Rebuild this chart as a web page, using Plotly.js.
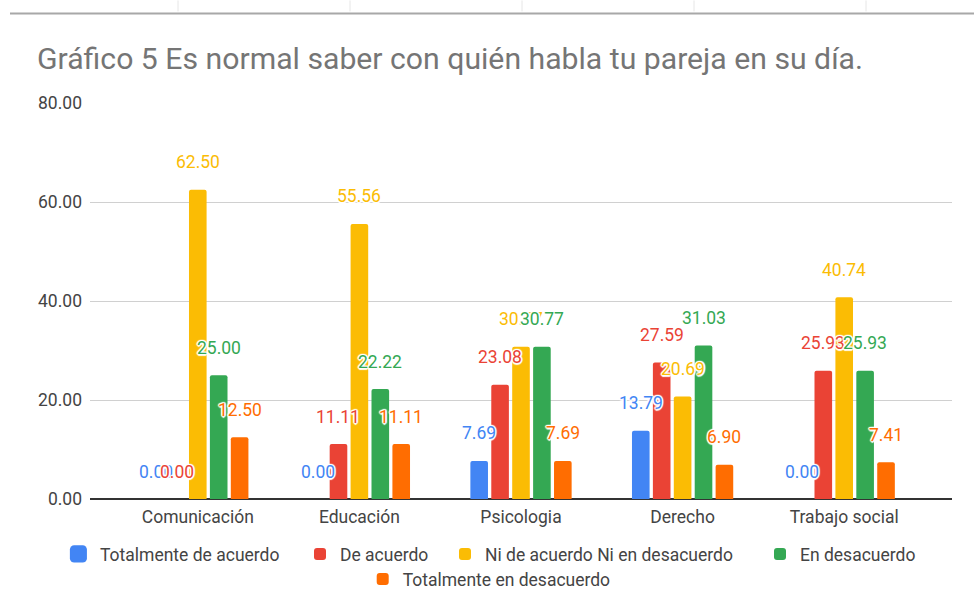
<!DOCTYPE html>
<html>
<head>
<meta charset="utf-8">
<script src="https://cdn.plot.ly/plotly-3.0.1.min.js"></script>
<style>
  html, body { margin: 0; padding: 0; background: #fff; }
  #chart { width: 974px; height: 610px; }
  .legend .legendpoints path { transform-box: fill-box; transform-origin: center; scale: 1.42; translate: -10px 0; }
</style>
</head>
<body>
<div id="chart"></div>
<script>
const categories = ['Comunicación', 'Educación', 'Psicologia', 'Derecho', 'Trabajo social'];
const seriesNames = ['Totalmente de acuerdo', 'De acuerdo', 'Ni de acuerdo Ni en desacuerdo', 'En desacuerdo', 'Totalmente en desacuerdo'];
const totalmenteDeAcuerdo = [0.00, 0.00, 7.69, 13.79, 0.00];
const deAcuerdo = [0.00, 11.11, 23.08, 27.59, 25.93];
const niNi = [62.50, 55.56, 30.77, 20.69, 40.74];
const enDesacuerdo = [25.00, 22.22, 30.77, 31.03, 25.93];
const totalmenteEnDesacuerdo = [12.50, 11.11, 7.69, 6.90, 7.41];
const yTicks = [0, 20, 40, 60, 80];

const seriesValues = [totalmenteDeAcuerdo, deAcuerdo, niNi, enDesacuerdo, totalmenteEnDesacuerdo];
const colors = ['#4285F4', '#EA4335', '#FBBC04', '#34A853', '#FF6D01'];

const FONT = 'Roboto, "Noto Sans", Arial, sans-serif';
const BARGAP = 0.353;
const nSeries = seriesValues.length;
const slot = (1 - BARGAP) / nSeries;

const legendIds = ['legend', 'legend2', 'legend3', 'legend4', 'legend5'];
// legend entry placement (text start x, row center y) in pixels
const legendTextX = [100, 340, 485, 800, 402.7];
const legendRowY = [554, 554, 554, 554, 579];

const traces = seriesValues.map((vals, k) => ({
  type: 'bar',
  name: seriesNames[k],
  x: categories,
  y: vals,
  marker: { color: colors[k], cornerradius: 2 },
  legend: legendIds[k],
  hoverinfo: 'x+y+name'
}));

const halo = '1px 1px 1px #fff, -1px -1px 1px #fff, 1px -1px 1px #fff, -1px 1px 1px #fff, 0 1.5px 1px #fff, 0 -1.5px 1px #fff, 1.5px 0 1px #fff, -1.5px 0 1px #fff';
const annotations = [];
seriesValues.forEach((vals, k) => {
  vals.forEach((v, i) => {
    annotations.push({
      x: i + (k - (nSeries - 1) / 2) * slot,
      y: v,
      xref: 'x', yref: 'y',
      text: v.toFixed(2),
      showarrow: false,
      yshift: 27.5,
      xanchor: 'center', yanchor: 'middle',
      font: { family: FONT, size: 17.5, color: colors[k], shadow: halo }
    });
  });
});

const topY = 1 + (102.7 - 13) / 396.6;
const shapes = [
  { type: 'line', xref: 'paper', yref: 'paper', x0: (10 - 90) / 862, x1: 1.05, y0: topY, y1: topY, line: { color: '#a8a8a8', width: 2 } }
];
[178, 350, 522, 694, 866].forEach(px => {
  const xp = (px - 90) / 862;
  shapes.push({ type: 'line', xref: 'paper', yref: 'paper', x0: xp, x1: xp, y0: 1 + 102.7 / 396.6, y1: 1 + (102.7 - 11) / 396.6, line: { color: '#e6e6e6', width: 1 } });
});

const layout = {
  width: 974, height: 610,
  paper_bgcolor: '#fff', plot_bgcolor: '#fff',
  margin: { l: 90, r: 22, t: 102.7, b: 110.7, pad: 0 },
  title: {
    text: 'Gráfico 5 Es normal saber con quién habla tu pareja en su día.',
    font: { family: FONT, size: 30.2, color: '#757575' },
    x: 37 / 974, xanchor: 'left', xref: 'container',
    y: 1 - 58 / 610, yanchor: 'middle', yref: 'container'
  },
  barmode: 'group',
  bargap: BARGAP,
  bargroupgap: 0.158,
  xaxis: {
    type: 'category',
    range: [-0.667, 4.667],
    autorange: false,
    showgrid: false,
    showline: false,
    zeroline: false,
    ticks: '',
    ticklabelstandoff: 5,
    tickfont: { family: FONT, size: 17.5, color: '#444' },
    fixedrange: true
  },
  yaxis: {
    range: [0, 80],
    autorange: false,
    tickvals: yTicks,
    tickformat: '.2f',
    showgrid: true,
    gridcolor: '#d0d0d0',
    gridwidth: 1,
    zeroline: true,
    zerolinecolor: '#333',
    zerolinewidth: 1.5,
    showline: false,
    ticks: '',
    ticklabelstandoff: 7,
    tickfont: { family: FONT, size: 17.5, color: '#444' },
    fixedrange: true
  },
  annotations: annotations,
  shapes: shapes,
  showlegend: true
};

legendIds.forEach((id, k) => {
  layout[id] = {
    orientation: 'h',
    xref: 'container', yref: 'container',
    xanchor: 'left', yanchor: 'middle',
    x: (legendTextX[k] - 40) / 974,
    y: 1 - legendRowY[k] / 610,
    font: { family: FONT, size: 17.5, color: '#444' },
    bgcolor: 'rgba(0,0,0,0)'
  };
});

Plotly.newPlot('chart', traces, layout, { displayModeBar: false });
</script>
</body>
</html>
